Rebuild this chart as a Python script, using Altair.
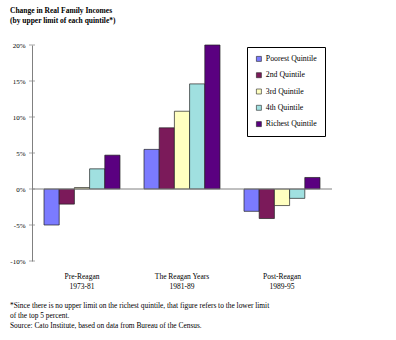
import altair as alt
import pandas as pd

periods = ["Pre-Reagan|1973-81", "The Reagan Years|1981-89", "Post-Reagan|1989-95"]
quintiles = ["Poorest Quintile", "2nd Quintile", "3rd Quintile", "4th Quintile", "Richest Quintile"]
colors = ["#7B7BFF", "#7B1A5A", "#FFFFC0", "#A0E0E0", "#5A0080"]

pre_reagan = [-5.0, -2.1, 0.2, 2.8, 4.7]
reagan = [5.5, 8.5, 10.8, 14.6, 20.0]
post_reagan = [-3.1, -4.1, -2.3, -1.3, 1.6]

y_ticks = [-10, -5, 0, 5, 10, 15, 20]

title_text = "Change in Real Family Incomes\n(by upper limit of each quintile*)"
foot_text = ("*Since there is no upper limit on the richest quintile, that figure refers to the lower limit\n"
             "of the top 5 percent.\n"
             "Source: Cato Institute, based on data from Bureau of the Census.")

rows = []
for p, vals in zip(periods, [pre_reagan, reagan, post_reagan]):
    for q, v in zip(quintiles, vals):
        rows.append({"period": p, "quintile": q, "value": v})
df = pd.DataFrame(rows)

FONT = "Liberation Serif"

yscale = alt.Scale(domain=[-10, 20], nice=False, zero=False)
yaxis = alt.Axis(title=None, values=y_ticks, grid=False, ticks=False,
                 domainColor="#808080", labelExpr="datum.value + '%'",
                 labelOverlap=False,
                 labelFont=FONT, labelFontSize=7, labelColor="#000000",
                 labelPadding=7)

bars = alt.Chart(df).mark_bar(stroke="#222222", strokeWidth=0.7).encode(
    x=alt.X("period:N", sort=periods,
            scale=alt.Scale(paddingInner=0.24, paddingOuter=0.12),
            axis=alt.Axis(title=None, domain=False, ticks=False, labelAngle=0,
                          labelExpr="split(datum.label, '|')", labelPadding=11,
                          labelFont=FONT, labelFontSize=7.5, labelColor="#000000",
                          labelLineHeight=10)),
    xOffset=alt.XOffset("quintile:N", sort=quintiles, scale=alt.Scale(paddingInner=0, paddingOuter=0)),
    y=alt.Y("value:Q", scale=yscale, axis=yaxis),
    color=alt.Color("quintile:N", sort=quintiles,
                    scale=alt.Scale(domain=quintiles, range=colors),
                    legend=alt.Legend(title=None, orient="none", legendX=215, legendY=2,
                                      strokeColor="#000000", padding=8,
                                      symbolType="square", symbolSize=25,
                                      symbolStrokeColor="#222222", symbolStrokeWidth=0.6,
                                      labelFont=FONT, labelFontSize=7.8, labelColor="#000000",
                                      rowPadding=7.3, labelOffset=3,
                                      fillColor="#ffffff")),
)

ticks_df = pd.DataFrame({"v": y_ticks})
tick_marks = alt.Chart(ticks_df).mark_tick(color="#808080", thickness=1, size=6, orient="horizontal").encode(
    y=alt.Y("v:Q", scale=yscale, axis=yaxis),
    x=alt.value(0),
)

zero = alt.Chart(pd.DataFrame({"z": [0]})).mark_rule(color="#808080", strokeWidth=1).encode(
    y=alt.Y("z:Q", scale=yscale, axis=yaxis),
)

title = alt.Chart(pd.DataFrame({"t": [title_text]})).mark_text(
    align="left", baseline="top", font=FONT, fontSize=7.5, fontWeight="bold",
    lineBreak="\n", lineHeight=10, color="#000000"
).encode(text="t:N", x=alt.value(-22), y=alt.value(-38))

foot = alt.Chart(pd.DataFrame({"t": [foot_text]})).mark_text(
    align="left", baseline="top", font=FONT, fontSize=7.4, lineBreak="\n",
    lineHeight=10, color="#000000"
).encode(text="t:N", x=alt.value(-22), y=alt.value(257))

chart = alt.layer(bars, zero, tick_marks, title, foot).properties(
    width=300, height=216,
    autosize=alt.AutoSizeParams(type="none"),
    padding={"left": 32, "top": 45, "right": 64, "bottom": 79},
    background="#ffffff",
).configure_view(stroke=None).configure_legend(labelColor="#000000")

chart.save("out.html", embed_options={"renderer": "svg", "actions": False})
